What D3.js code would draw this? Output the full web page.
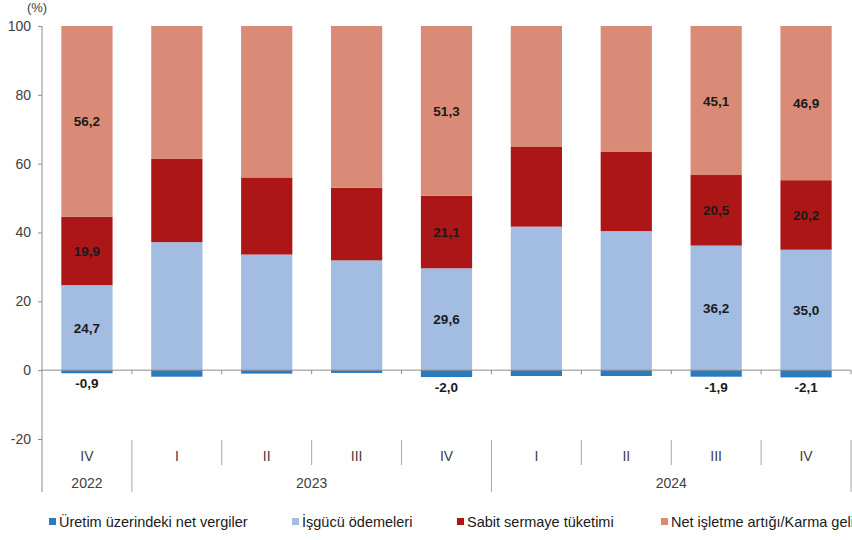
<!DOCTYPE html>
<html>
<head>
<meta charset="utf-8">
<script src="https://cdn.jsdelivr.net/npm/d3@7"></script>
<style>
  body { margin: 0; background: #fff; }
  svg { font-family: "Liberation Sans", Arial, sans-serif; }
</style>
</head>
<body>
<div id="chart"></div>
<script>
// quarters and years
const quarters = ['IV', 'I', 'II', 'III', 'IV', 'I', 'II', 'III', 'IV'];
const years = ['2022', '2023', '2024'];
const yearSpans = [[0, 0], [1, 4], [5, 8]];

// series values (%)
const netVergiler = [-0.9, -1.9, -1.0, -0.8, -2.0, -1.7, -1.7, -1.9, -2.1];
const isgucu = [24.7, 37.2, 33.6, 31.9, 29.6, 41.7, 40.4, 36.2, 35.0];
const sabitSermaye = [19.9, 24.2, 22.4, 21.1, 21.1, 23.3, 23.0, 20.5, 20.2];
const netIsletme = [56.2, 40.5, 45.0, 47.8, 51.3, 36.7, 38.3, 45.1, 46.9];

// bars that carry value labels
const labelledBars = [0, 4, 7, 8];

const seriesNames = [
  'Üretim üzerindeki net vergiler',
  'İşgücü ödemeleri',
  'Sabit sermaye tüketimi',
  'Net işletme artığı/Karma geliri'
];
const seriesKeys = ['tax', 'labor', 'capital', 'surplus'];
const colors = ['#2a7abf', '#a3bce2', '#ad1616', '#d98b77'];

const yTicks = [-20, 0, 20, 40, 60, 80, 100];

const data = quarters.map((q, i) => ({
  idx: i,
  tax: netVergiler[i],
  labor: isgucu[i],
  capital: sabitSermaye[i],
  surplus: netIsletme[i]
}));

const width = 852;
const height = 540;
const plotLeft = 42;
const plotRight = 851;

const svg = d3.select('#chart')
  .append('svg')
  .attr('width', width)
  .attr('height', height);

const x = d3.scaleBand()
  .domain(d3.range(quarters.length))
  .range([plotLeft, plotRight])
  .paddingInner(0.43)
  .paddingOuter(0.215);

const y = d3.scaleLinear()
  .domain([-20, 100])
  .range([439, 26]);

const step = x.step();
const edge = (i) => plotLeft + i * step;

// bars above the axis max get cut off at 100
svg.append('clipPath')
  .attr('id', 'plot-clip')
  .append('rect')
  .attr('x', plotLeft)
  .attr('y', y(100))
  .attr('width', plotRight - plotLeft)
  .attr('height', y(-20) - y(100));

// Stack positive parts up from zero, negative below
const stacked = d3.stack()
  .keys(seriesKeys)
  .offset(d3.stackOffsetDiverging)(data);

const fmt = (v) => v.toFixed(1).replace('.', ',');

// Bars
const barG = svg.append('g').attr('clip-path', 'url(#plot-clip)');
stacked.forEach((layer, si) => {
  barG.append('g')
    .selectAll('rect')
    .data(layer)
    .enter()
    .append('rect')
    .attr('x', (d, i) => x(i))
    .attr('width', x.bandwidth())
    .attr('y', (d) => y(Math.max(d[0], d[1])))
    .attr('height', (d) => Math.abs(y(d[0]) - y(d[1])))
    .attr('fill', colors[si]);
});

// Left axis
const axisColor = '#8c8c8c';
const yAxis = svg.append('g')
  .attr('transform', `translate(${plotLeft},0)`)
  .call(d3.axisLeft(y).tickValues(yTicks).tickSize(4).tickFormat((d) => String(d)));
yAxis.select('.domain').remove();
yAxis.selectAll('line').attr('stroke', axisColor);
yAxis.selectAll('text')
  .attr('fill', '#404040')
  .attr('font-size', 14)
  .attr('x', -11);
svg.append('line')
  .attr('x1', plotLeft).attr('x2', plotLeft)
  .attr('y1', y(100)).attr('y2', 492)
  .attr('stroke', axisColor);

svg.append('text')
  .attr('x', 37).attr('y', 12)
  .attr('text-anchor', 'middle')
  .attr('font-size', 13)
  .attr('fill', '#404040')
  .text('(%)');

// Zero line with category ticks
svg.append('line')
  .attr('x1', plotLeft).attr('x2', plotRight)
  .attr('y1', y(0)).attr('y2', y(0))
  .attr('stroke', axisColor);
svg.append('g')
  .selectAll('line')
  .data(d3.range(1, quarters.length + 1))
  .enter()
  .append('line')
  .attr('x1', (i) => edge(i)).attr('x2', (i) => edge(i))
  .attr('y1', y(0)).attr('y2', y(0) + 4)
  .attr('stroke', axisColor);

// Category separators below the plot
const yearBounds = yearSpans.map((s) => s[1] + 1);
svg.append('g')
  .selectAll('line')
  .data(d3.range(1, quarters.length + 1))
  .enter()
  .append('line')
  .attr('x1', (i) => edge(i)).attr('x2', (i) => edge(i))
  .attr('y1', 440)
  .attr('y2', (i) => (yearBounds.includes(i) ? 492 : 465))
  .attr('stroke', '#a6a6a6');

// Quarter labels
svg.append('g')
  .selectAll('text')
  .data(quarters)
  .enter()
  .append('text')
  .attr('x', (d, i) => x(i) + x.bandwidth() / 2)
  .attr('y', 461)
  .attr('text-anchor', 'middle')
  .attr('font-size', 14)
  .attr('fill', '#404040')
  .text((d) => d);

// Year labels
svg.append('g')
  .selectAll('text')
  .data(years)
  .enter()
  .append('text')
  .attr('x', (d, i) => (edge(yearSpans[i][0]) + edge(yearSpans[i][1] + 1)) / 2)
  .attr('y', 488)
  .attr('text-anchor', 'middle')
  .attr('font-size', 14)
  .attr('fill', '#404040')
  .text((d) => d);

// Value labels
const labelG = svg.append('g')
  .attr('font-size', 13.5)
  .attr('font-weight', 'bold')
  .attr('fill', '#1a1a1a')
  .attr('text-anchor', 'middle');

stacked.forEach((layer, si) => {
  labelledBars.forEach((i) => {
    const d = layer[i];
    const v = data[i][seriesKeys[si]];
    const cx = x(i) + x.bandwidth() / 2;
    let cy;
    if (v < 0) {
      cy = y(d[0]) + 15;
    } else {
      cy = (y(d[0]) + Math.max(y(d[1]), y(100))) / 2 + 5;
    }
    labelG.append('text')
      .attr('x', cx)
      .attr('y', cy)
      .text(fmt(v));
  });
});

// Legend
const legendX = [49, 292, 457, 661];
const legend = svg.append('g');
seriesNames.forEach((name, i) => {
  legend.append('rect')
    .attr('x', legendX[i]).attr('y', 518)
    .attr('width', 7).attr('height', 7)
    .attr('fill', colors[i]);
  legend.append('text')
    .attr('x', legendX[i] + 10).attr('y', 527)
    .attr('font-size', 14.5)
    .attr('fill', '#1a1a1a')
    .text(name);
});
</script>
</body>
</html>
